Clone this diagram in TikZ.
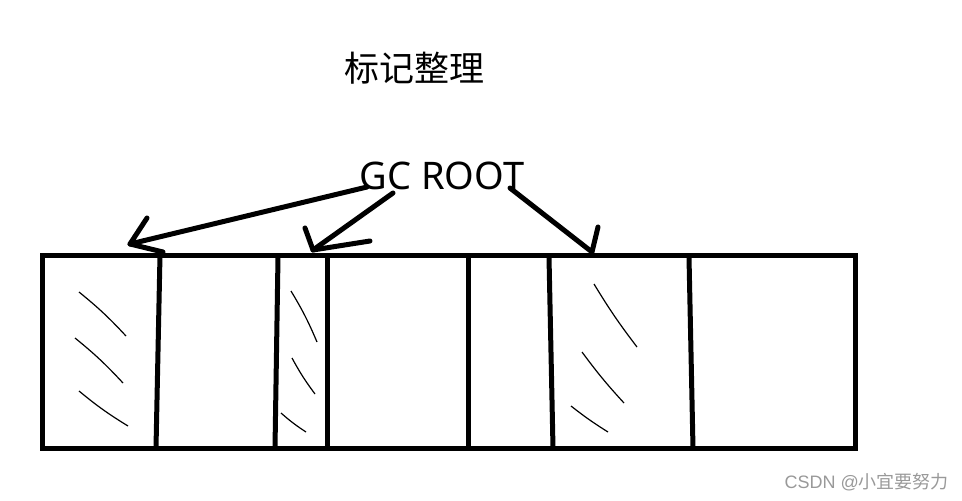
\documentclass[tikz,border=0pt]{standalone}
\usepackage{fontspec}
\setmainfont{Noto Sans}
\newfontfamily\cjk{Noto Sans CJK SC}
\newfontfamily\wmfont{Liberation Sans}
\begin{document}
\begin{tikzpicture}[x=1pt,y=-1pt,
  thick line/.style={line width=5pt, line cap=butt},
  hatch/.style={line width=1.2pt},
  label text/.style={inner sep=0pt, text=black}]
\useasboundingbox (0,0) rectangle (962,501);
% titles
\node[label text, font=\cjk\fontsize{35}{40}\selectfont] (title) at (414,68) {标记整理};
\node[label text, font=\fontsize{38}{44}\selectfont] (gc) at (442,176) {GC ROOT};
\node[label text, text=gray!80, anchor=east] (wm) at (949,482) {\wmfont\fontsize{18}{21}\selectfont CSDN @\cjk 小宜要努力};
% outer box
\draw[thick line] (42,255) rectangle (855,448);
% dividers
\draw[thick line] (160,255) -- (156,448);
\draw[thick line] (278,257) -- (275,448);
\draw[thick line] (327,255) -- (327,448);
\draw[thick line] (468,257) -- (468,448);
\draw[thick line] (549,257) -- (553,448);
\draw[thick line] (689,257) -- (693,448);
% hatches
\draw[hatch] (79,292) to[bend left=4] (126,336);
\draw[hatch] (75,338) to[bend left=4] (123,383);
\draw[hatch] (79,391) to[bend right=4] (128,426);
\draw[hatch] (291,291) to[bend left=4] (317,342);
\draw[hatch] (292,358) to[bend right=4] (315,394);
\draw[hatch] (281,413) to[bend right=4] (306,432);
\draw[hatch] (594,284) to[bend right=3] (637,347);
\draw[hatch] (582,352) to[bend right=3] (624,403);
\draw[hatch] (571,406) to[bend right=3] (608,432);
% arrows
\coordinate (a1s) at (367,187);
\coordinate (a1e) at (130,244);
\coordinate (a2s) at (393,193);
\coordinate (a2e) at (313,250);
\coordinate (a3s) at (510,188);
\coordinate (a3e) at (592,252);
\draw[thick line, line cap=round, line join=round] (a1s) -- (a1e);
\draw[thick line, line cap=round, line join=round] (147,218) -- (a1e) -- (163,252);
\draw[thick line, line cap=round, line join=round] (a2s) -- (a2e);
\draw[thick line, line cap=round, line join=round] (305,228) -- (a2e) -- (370,241);
\draw[thick line, line cap=round, line join=round] (a3s) -- (a3e) -- (598,227);
\end{tikzpicture}
\end{document}
